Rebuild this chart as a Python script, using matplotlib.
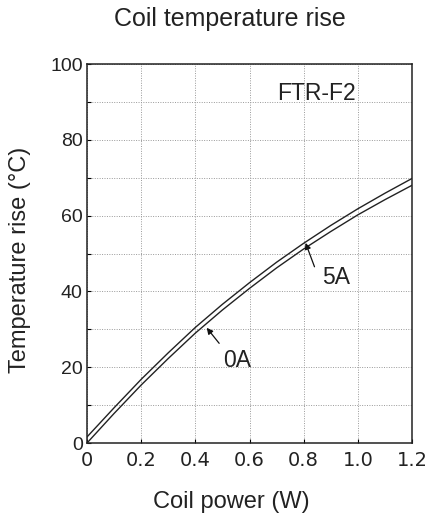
#!/usr/bin/python3
import matplotlib
matplotlib.use("Agg")
import matplotlib.pyplot as plt
from matplotlib.ticker import MultipleLocator

power = [0, 0.1, 0.2, 0.3, 0.4, 0.5, 0.6, 0.7, 0.8, 0.9, 1.0, 1.1, 1.2]
rise_0a = [0, 7.8, 15.3, 22.3, 29.0, 35.1, 40.8, 46.2, 51.2, 55.8, 60.2, 64.2, 68.0]
rise_5a = [1.6, 9.3, 16.8, 23.8, 30.5, 36.6, 42.3, 47.7, 52.7, 57.4, 61.8, 65.9, 69.8]
x_ticks = [0, 0.2, 0.4, 0.6, 0.8, 1.0, 1.2]
x_labels = ["0", "0.2", "0.4", "0.6", "0.8", "1.0", "1.2"]
y_ticks = [0, 20, 40, 60, 80, 100]

sans = "Liberation Sans"
ink = "#222222"

fig = plt.figure(figsize=(4.28, 5.15), dpi=100)
ax = fig.add_axes([0.2033, 0.1398, 0.7593, 0.7359])

ax.plot(power, rise_0a, color=ink, lw=1.0)
ax.plot(power, rise_5a, color=ink, lw=1.0)

ax.set_xlim(0, 1.2)
ax.set_ylim(0, 100)
ax.set_xticks(x_ticks)
ax.set_xticklabels(x_labels, family="DejaVu Sans", fontsize=14, color=ink)
ax.set_yticks(y_ticks)
ax.set_yticklabels([str(v) for v in y_ticks], family=sans, fontsize=14, color=ink)
ax.yaxis.set_minor_locator(MultipleLocator(10))
ax.tick_params(which="both", direction="in", length=3, width=0.8, pad=3)
ax.tick_params(axis="x", pad=6)
ax.grid(True, which="both", linestyle=(0, (1, 1.5)), color="#999999", lw=0.7)

for s in ax.spines.values():
    s.set_linewidth(1.1)
    s.set_color(ink)

ax.text(0.846, 92.1, "FTR-F2", family=sans, fontsize=16.5, ha="center", va="center",
        color=ink)

arrow = dict(arrowstyle="-|>", color="#111111", lw=0.9, mutation_scale=9,
             shrinkA=0, shrinkB=0)
ax.annotate("", xy=(0.807, 52.8), xytext=(0.84, 46.5), arrowprops=arrow)
ax.text(0.92, 43.8, "5A", family=sans, fontsize=16.5, ha="center", va="center",
        color=ink)
ax.annotate("", xy=(0.442, 30.4), xytext=(0.488, 26.3), arrowprops=arrow)
ax.text(0.555, 21.8, "0A", family=sans, fontsize=16.5, ha="center", va="center",
        color=ink)

fig.text(230 / 428, 1 - 19 / 515, "Coil temperature rise", family=sans, fontsize=18,
         ha="center", va="center", color=ink)
fig.text(231 / 428, 1 - 502 / 515, "Coil power (W)", family=sans, fontsize=17,
         ha="center", va="center", color=ink)
fig.text(20 / 428, 1 - 260 / 515, "Temperature rise (°C)", family=sans, fontsize=17,
         ha="center", va="center", rotation=90, color=ink)

fig.savefig("out.png", dpi=100)
